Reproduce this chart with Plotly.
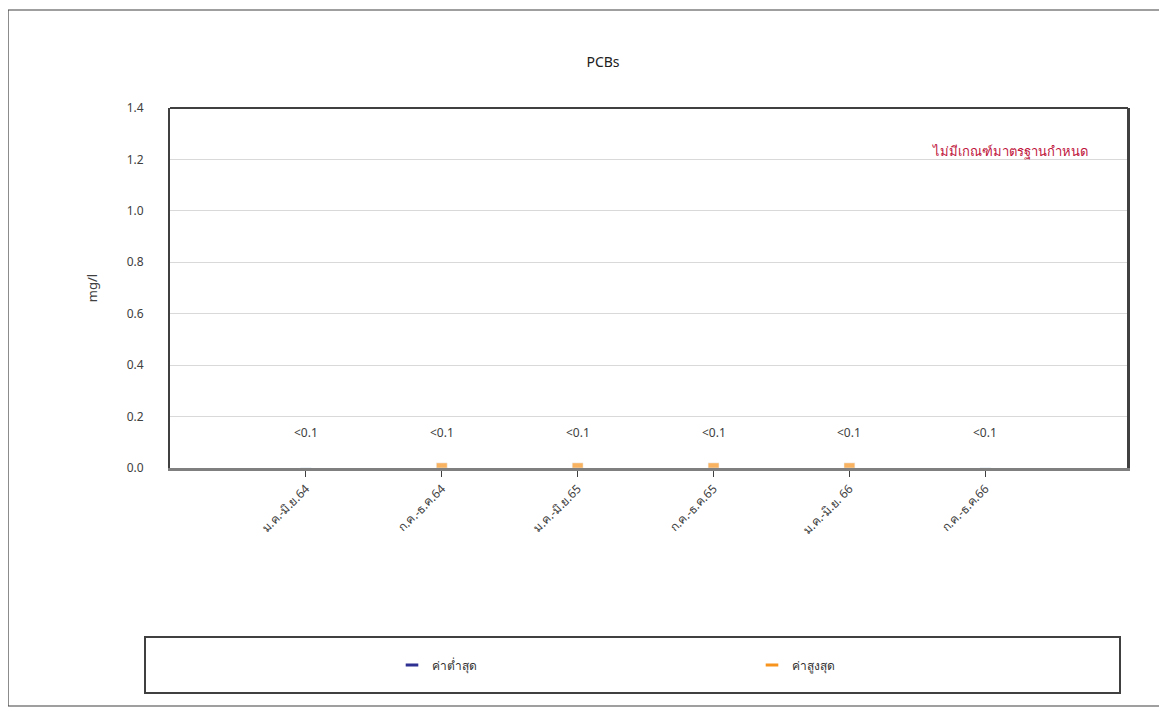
import plotly.graph_objects as go

categories = ["ม.ค.-มิ.ย.64", "ก.ค.-ธ.ค.64", "ม.ค.-มิ.ย.65", "ก.ค.-ธ.ค.65", "ม.ค.-มิ.ย. 66", "ก.ค.-ธ.ค.66"]
min_values = [0.0, 0.0, 0.0, 0.0, 0.0, 0.0]
max_values = [0.0, 0.02, 0.02, 0.02, 0.02, 0.0]
data_labels = ["<0.1", "<0.1", "<0.1", "<0.1", "<0.1", "<0.1"]
y_ticks = [0.0, 0.2, 0.4, 0.6, 0.8, 1.0, 1.2, 1.4]

W, H = 1167, 714
OFF = 8  # page body margin
# plot area in screen pixels
SL, SR, ST, SB = 170, 1128, 108, 468
L, T = SL - OFF, ST - OFF
R, B = W - (SR - OFF), H - (SB - OFF)
pw, ph = W - L - R, H - T - B

def px_x(x):
    return (x - OFF - L) / pw

def px_y(y):
    return (H - B - (y - OFF)) / ph

FONT = "Noto Sans, DejaVu Sans, sans-serif"
xs = list(range(len(categories)))

fig = go.Figure()
fig.add_trace(go.Bar(x=xs, y=min_values, name="ค่าต่ำสุด", marker_color="#2E3192",
                     width=0.08, showlegend=False))
fig.add_trace(go.Bar(x=xs, y=max_values, name="ค่าสูงสุด", marker_color="#F7941D",
                     width=0.08, showlegend=False, opacity=0.7))
# legend entries (short dash style)
fig.add_trace(go.Scatter(x=[None], y=[None], mode="markers", name="ค่าต่ำสุด", legend="legend",
                         marker=dict(symbol="line-ew", size=9, color="#2E3192",
                                     line=dict(color="#2E3192", width=3))))
fig.add_trace(go.Scatter(x=[None], y=[None], mode="markers", name="ค่าสูงสุด", legend="legend2",
                         marker=dict(symbol="line-ew", size=9, color="#F7941D",
                                     line=dict(color="#F7941D", width=3))))

annotations = []
for x, lab in zip(xs, data_labels):
    annotations.append(dict(x=x, y=0, xref="x", yref="y", text=lab, showarrow=False,
                            yshift=36, font=dict(size=12, color="#404040", family=FONT)))
annotations.append(dict(x=px_x(1090), y=px_y(140), xref="paper", yref="paper",
                        text="ไม่มีเกณฑ์มาตรฐานกำหนด", showarrow=False, xanchor="right",
                        font=dict(size=13, color="#C0143C", family=FONT)))

shapes = [
    dict(type="rect", xref="paper", yref="paper", x0=px_x(8), x1=px_x(1160),
         y0=px_y(10), y1=px_y(706), line=dict(color="#404040", width=1.2)),
    dict(type="rect", xref="paper", yref="paper", x0=px_x(145), x1=px_x(1120),
         y0=px_y(637), y1=px_y(693), line=dict(color="#404040", width=2)),
    dict(type="line", xref="paper", yref="paper", x0=1, x1=1, y0=0, y1=1,
         line=dict(color="#404040", width=2)),
    dict(type="line", xref="paper", yref="paper", x0=0, x1=1, y0=1, y1=1,
         line=dict(color="#404040", width=2)),
]

leg_common = dict(orientation="h", xanchor="left", yanchor="middle",
                  font=dict(size=12, color="#333", family=FONT), bgcolor="rgba(0,0,0,0)")

fig.update_layout(
    width=W, height=H,
    margin=dict(l=L, r=R, t=T, b=B),
    paper_bgcolor="white", plot_bgcolor="white",
    font=dict(family=FONT, size=12, color="#404040"),
    title=dict(text="PCBs", xref="container", x=(603 - OFF) / W, xanchor="center",
               yref="container", y=1 - (62 - OFF) / H, yanchor="middle",
               font=dict(size=14, color="#202020", family=FONT)),
    barmode="overlay",
    showlegend=True,
    legend=dict(x=px_x(392), y=px_y(665), **leg_common),
    legend2=dict(x=px_x(752), y=px_y(665), **leg_common),
    annotations=annotations,
    shapes=shapes,
)
fig.update_xaxes(
    range=[-1, 6.05], tickmode="array", tickvals=xs, ticktext=categories, tickangle=-45,
    showline=True, linecolor="#7F7F7F", linewidth=3, mirror=False,
    ticks="outside", ticklen=6, tickcolor="#404040", showgrid=False, zeroline=False,
    tickfont=dict(size=12, color="#404040", family=FONT),
)
fig.update_yaxes(
    range=[0, 1.4], tickvals=y_ticks, tickformat=".1f",
    showline=True, linecolor="#404040", linewidth=2, mirror=True,
    ticks="", showgrid=True, gridcolor="#D9D9D9", gridwidth=1, zeroline=False,
    ticklabelstandoff=22,
    title=dict(text="mg/l", font=dict(size=13, color="#404040", family=FONT), standoff=26),
    tickfont=dict(size=12, color="#404040", family=FONT),
)

fig.write_html("out.html")
